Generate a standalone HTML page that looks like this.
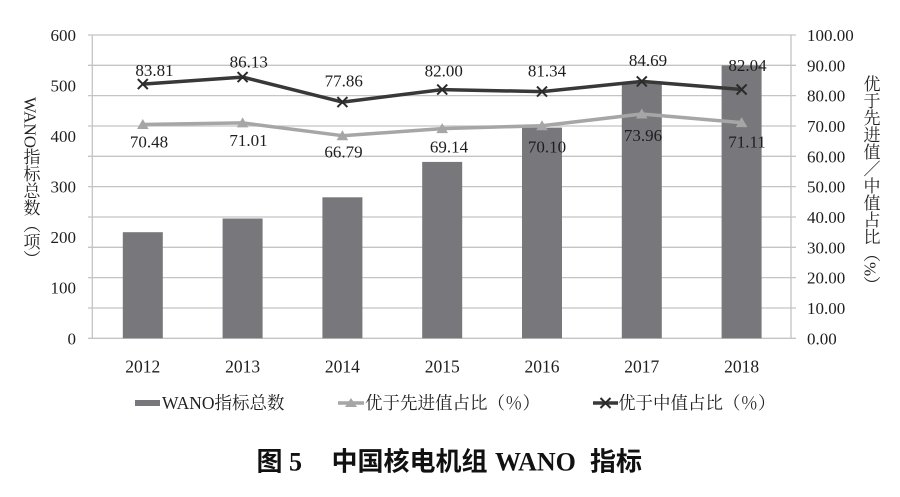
<!DOCTYPE html>
<html><head><meta charset="utf-8">
<style>
html,body{margin:0;padding:0;background:#fff;}
#wrap{position:relative;width:900px;height:497px;overflow:hidden;background:#fff;}
svg{position:absolute;left:0;top:0;}
.vt{position:absolute;writing-mode:vertical-rl;text-orientation:mixed;font-family:"Liberation Serif","Noto Serif CJK SC",serif;font-size:17px;line-height:17px;color:#222;white-space:nowrap;}
</style></head>
<body><div id="wrap">
<svg width="900" height="497" viewBox="0 0 900 497" xmlns="http://www.w3.org/2000/svg">
<g stroke="#c4c4c4" stroke-width="1.3">
<line x1="88" y1="338.3" x2="796" y2="338.3"/>
<line x1="88" y1="307.97" x2="796" y2="307.97"/>
<line x1="88" y1="277.64" x2="796" y2="277.64"/>
<line x1="88" y1="247.31" x2="796" y2="247.31"/>
<line x1="88" y1="216.98" x2="796" y2="216.98"/>
<line x1="88" y1="186.65" x2="796" y2="186.65"/>
<line x1="88" y1="156.32" x2="796" y2="156.32"/>
<line x1="88" y1="125.99" x2="796" y2="125.99"/>
<line x1="88" y1="95.66" x2="796" y2="95.66"/>
<line x1="88" y1="65.33" x2="796" y2="65.33"/>
<line x1="88" y1="35" x2="796" y2="35"/>
<line x1="92.3" y1="35" x2="92.3" y2="338.3"/>
<line x1="791" y1="35" x2="791" y2="338.3"/>
</g>
<g fill="#78787c">
<rect x="122.8" y="232.2" width="40" height="106.1"/>
<rect x="222.6" y="218.5" width="40" height="119.8"/>
<rect x="322.4" y="197.3" width="40" height="141"/>
<rect x="422.2" y="161.9" width="40" height="176.4"/>
<rect x="522.0" y="127.6" width="40" height="210.7"/>
<rect x="621.8" y="82.1" width="40" height="256.2"/>
<rect x="721.6" y="65.4" width="40" height="272.9"/>
</g>
<polyline fill="none" stroke="#a6a6a6" stroke-width="3.5" stroke-linejoin="round" points="142.8,124.5 242.6,122.9 342.4,135.7 442.2,128.6 542.0,125.7 641.8,114.0 741.6,122.6"/>
<g fill="#a6a6a6">
<polygon points="137,129 148.6,129 142.8,119"/>
<polygon points="236.8,127.4 248.4,127.4 242.6,117.4"/>
<polygon points="336.6,140.2 348.2,140.2 342.4,130.2"/>
<polygon points="436.4,133.1 448,133.1 442.2,123.1"/>
<polygon points="536.2,130.2 547.8,130.2 542,120.2"/>
<polygon points="636,118.5 647.6,118.5 641.8,108.5"/>
<polygon points="735.8,127.1 747.4,127.1 741.6,117.1"/>
</g>
<polyline fill="none" stroke="#383838" stroke-width="3.5" stroke-linejoin="round" points="142.8,84.1 242.6,77.1 342.4,102.1 442.2,89.6 542.0,91.6 641.8,81.4 741.6,89.5"/>
<g stroke="#2a2a2a" stroke-width="2">
<path d="M137.8,79.1 L147.8,89.1 M147.8,79.1 L137.8,89.1"/>
<path d="M237.6,72.1 L247.6,82.1 M247.6,72.1 L237.6,82.1"/>
<path d="M337.4,97.1 L347.4,107.1 M347.4,97.1 L337.4,107.1"/>
<path d="M437.2,84.6 L447.2,94.6 M447.2,84.6 L437.2,94.6"/>
<path d="M537,86.6 L547,96.6 M547,86.6 L537,96.6"/>
<path d="M636.8,76.4 L646.8,86.4 M646.8,76.4 L636.8,86.4"/>
<path d="M736.6,84.5 L746.6,94.5 M746.6,84.5 L736.6,94.5"/>
</g>
<g font-family="Liberation Serif, serif" font-size="17" fill="#1e1e1e" text-anchor="middle">
<text x="154.5" y="76">83.81</text>
<text x="248.8" y="67.7">86.13</text>
<text x="343.8" y="86.7">77.86</text>
<text x="443.8" y="76.7">82.00</text>
<text x="547" y="76.7">81.34</text>
<text x="648" y="66">84.69</text>
<text x="747.5" y="71">82.04</text>
<text x="149" y="147.7">70.48</text>
<text x="248.5" y="146">71.01</text>
<text x="343.5" y="157.7">66.79</text>
<text x="449" y="152.7">69.14</text>
<text x="547" y="152.7">70.10</text>
<text x="643" y="141">73.96</text>
<text x="747" y="147.7">71.11</text>
</g>
<g font-family="Liberation Serif, serif" font-size="17" fill="#1e1e1e" text-anchor="end">
<text x="76" y="41">600</text>
<text x="76" y="91.5">500</text>
<text x="76" y="142">400</text>
<text x="76" y="192.6">300</text>
<text x="76" y="243.1">200</text>
<text x="76" y="293.7">100</text>
<text x="76" y="344.3">0</text>
</g>
<g font-family="Liberation Serif, serif" font-size="17" fill="#1e1e1e" text-anchor="start">
<text x="807" y="41">100.00</text>
<text x="807" y="71.3">90.00</text>
<text x="807" y="101.7">80.00</text>
<text x="807" y="132">70.00</text>
<text x="807" y="162.3">60.00</text>
<text x="807" y="192.7">50.00</text>
<text x="807" y="223">40.00</text>
<text x="807" y="253.3">30.00</text>
<text x="807" y="283.6">20.00</text>
<text x="807" y="314">10.00</text>
<text x="807" y="344.3">0.00</text>
</g>
<g font-family="Liberation Serif, serif" font-size="17.5" fill="#1e1e1e" text-anchor="middle">
<text x="142.8" y="372.5">2012</text>
<text x="242.6" y="372.5">2013</text>
<text x="342.4" y="372.5">2014</text>
<text x="442.2" y="372.5">2015</text>
<text x="542" y="372.5">2016</text>
<text x="641.8" y="372.5">2017</text>
<text x="741.6" y="372.5">2018</text>
</g>
<rect x="135" y="400" width="25" height="6" fill="#78787c"/>
<line x1="338" y1="403" x2="364" y2="403" stroke="#a6a6a6" stroke-width="3.5"/>
<polygon points="345,407 357,407 351,398" fill="#a6a6a6"/>
<line x1="593" y1="403" x2="618" y2="403" stroke="#383838" stroke-width="3.5"/>
<path d="M600.5,398 L610.5,408 M610.5,398 L600.5,408" stroke="#2a2a2a" stroke-width="2"/>
<g font-family="Liberation Serif, Noto Serif CJK SC, serif" font-size="17.5" fill="#222">
<text x="162" y="409">WANO指标总数</text>
<text x="365" y="409">优于先进值占比（％）</text>
<text x="618" y="409">优于中值占比（％）</text>
</g>
<g font-weight="bold" font-size="26" fill="#111">
<text x="256.5" y="470.5" font-family="Noto Sans CJK SC, sans-serif">图</text>
<text x="289" y="470.5" font-family="Liberation Serif, serif">5</text>
<text x="331.5" y="470.5" font-family="Noto Sans CJK SC, sans-serif">中国核电机组</text>
<text x="495" y="470.5" font-family="Liberation Serif, serif">WANO</text>
<text x="590" y="470.5" font-family="Noto Sans CJK SC, sans-serif">指标</text>
</g>
</svg>
<div class="vt" style="left:21.5px;top:97px;">WANO指标总数（项）</div>
<div class="vt" style="left:861.5px;top:75px;">优于先进值／中值占比（%）</div>
</div></body></html>
